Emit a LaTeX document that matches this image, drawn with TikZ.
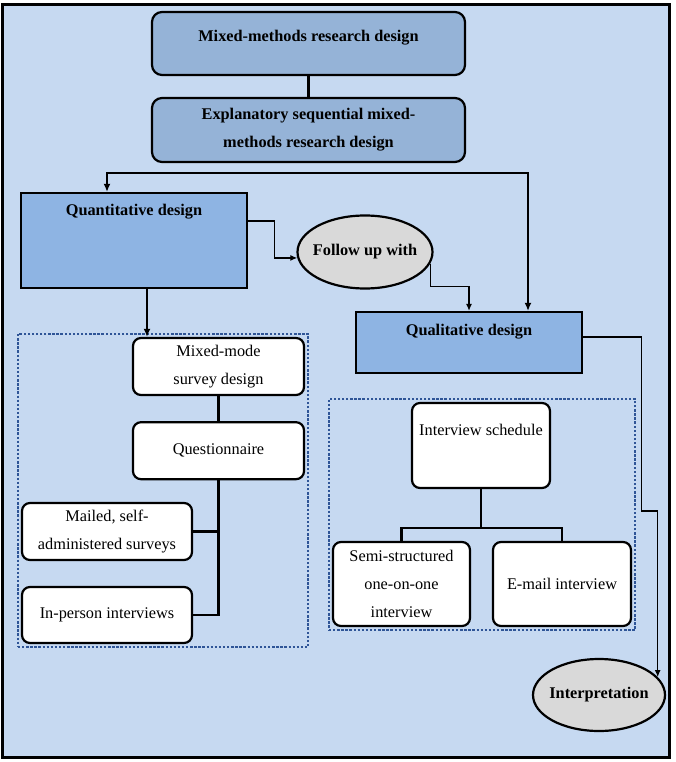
\documentclass[tikz,border=0pt]{standalone}
\usepackage{fontspec}
\setmainfont{Liberation Serif}
\usepackage{tikz}
\usetikzlibrary{arrows.meta,positioning,fit,calc,shapes.geometric,backgrounds}
\usepackage{xcolor}
\definecolor{frameBlue}{RGB}{198,217,241}
\definecolor{headBlue}{RGB}{149,179,215}
\definecolor{designBlue}{RGB}{142,180,227}
\definecolor{paleGrey}{RGB}{217,217,217}
\definecolor{dotBlue}{RGB}{47,85,151}
\newcommand{\boxfont}{\fontsize{16.3}{28}\selectfont}
\tikzset{
  link/.style={line width=2.2pt},
  flow/.style={->, line width=2.2pt},
  thinflow/.style={-{Latex[length=7pt,width=6pt]}, line width=1.2pt},
  headbox/.style={draw=black, line width=2.2pt, fill=headBlue, rounded corners=10pt, align=center,
                  minimum width=313pt, inner sep=0pt, font=\boxfont\bfseries},
  designbox/.style={draw=black, line width=2.2pt, fill=designBlue, minimum width=226pt,
                    inner sep=0pt, font=\boxfont\bfseries},
  itembox/.style={draw=black, line width=2.2pt, fill=white, rounded corners=8pt, align=center,
                  inner sep=0pt, font=\boxfont},
  bubble/.style={ellipse, draw=black, line width=2.2pt, fill=paleGrey, inner ysep=0pt, inner xsep=-14pt,
                 font=\boxfont\bfseries},
  group/.style={draw=dotBlue, line width=2.4pt, dash pattern=on 2.4pt off 1.7pt, inner sep=3pt}
}

\begin{document}
\begin{tikzpicture}[x=1pt, y=1pt, >={Latex[length=8pt,width=7pt]}]
  \useasboundingbox (0,0) rectangle (675,-762);
  \node[headbox, text height=30pt, text depth=33pt] (mixed) at (308.5,-43.5) {Mixed-methods research design};
  \node[headbox, minimum height=64pt] (explan) at (308.5,-130) {Explanatory sequential mixed-\\methods research design};
  \node[designbox, text height=22pt, text depth=73pt] (quant) at (134,-240.5) {Quantitative design};
  \node[designbox, text height=23pt, text depth=38pt] (qual) at (469,-342.5) {Qualitative design};
  \node[bubble, minimum width=135pt, minimum height=73pt] (follow) at (365,-252) {Follow up with};
  \node[bubble, minimum width=132pt, minimum height=72pt] (interp) at (599,-695) {Interpretation};
  \node[itembox, minimum width=171pt, minimum height=57pt] (mixmode) at (218.5,-366.5) {Mixed-mode\\survey design};
  \node[itembox, minimum width=171pt, minimum height=57pt, below=25pt of mixmode] (quest) {Questionnaire};
  \node[itembox, minimum width=170pt, minimum height=57pt] (mailed) at (107,-531.5) {Mailed, self-\\administered surveys};
  \node[itembox, minimum width=170pt, minimum height=56pt] (inperson) at (107,-615) {In-person interviews};
  \node[itembox, minimum width=138pt, text height=32pt, text depth=53pt] (sched) at (481,-445.5) {Interview schedule};
  \node[itembox, minimum width=137pt, minimum height=84pt] (semi) at (401.5,-584) {Semi-structured\\one-on-one\\interview};
  \node[itembox, minimum width=138pt, minimum height=84pt] (email) at (562,-584) {E-mail interview};
  \draw[link] (mixed) -- (explan);
  \draw[link, <->] ([xshift=-27pt]quant.north) |- ([yshift=-10pt]explan.south) -| ([xshift=59pt]qual.north);
  \draw[thinflow] ([yshift=19.5pt]quant.east) -- ++(26,0) |- (follow.185);
  \draw[thinflow] (follow.-10) -- ++(0,-23) -| (qual.north);
  \draw[thinflow] ([yshift=5.5pt]qual.east) -- ++(58,0) -- ++(0,-174) -| (interp.17);
  \draw[flow] ([xshift=13pt]quant.south) -- ([xshift=13pt]quant.south |- mixmode.north);
  \draw[link] (mixmode) -- (quest);
  \draw[link] (quest.south) |- (inperson.east);
  \draw[link] (mailed.east) -| (quest.south);
  \draw[link] (sched.south) -- ++(0,-39) -| (semi.north);
  \draw[link] (sched.south) -- ++(0,-39) -| (email.north);
  \begin{scope}[on background layer]
    \draw[line width=3pt, fill=frameBlue] (2,-5) rectangle (669,-757);
    \node[group, fit=(mixmode) (mailed) (inperson)] (quantgroup) {};
    \node[group, fit=(sched) (semi) (email)] (qualgroup) {};
  \end{scope}
\end{tikzpicture}
\end{document}
